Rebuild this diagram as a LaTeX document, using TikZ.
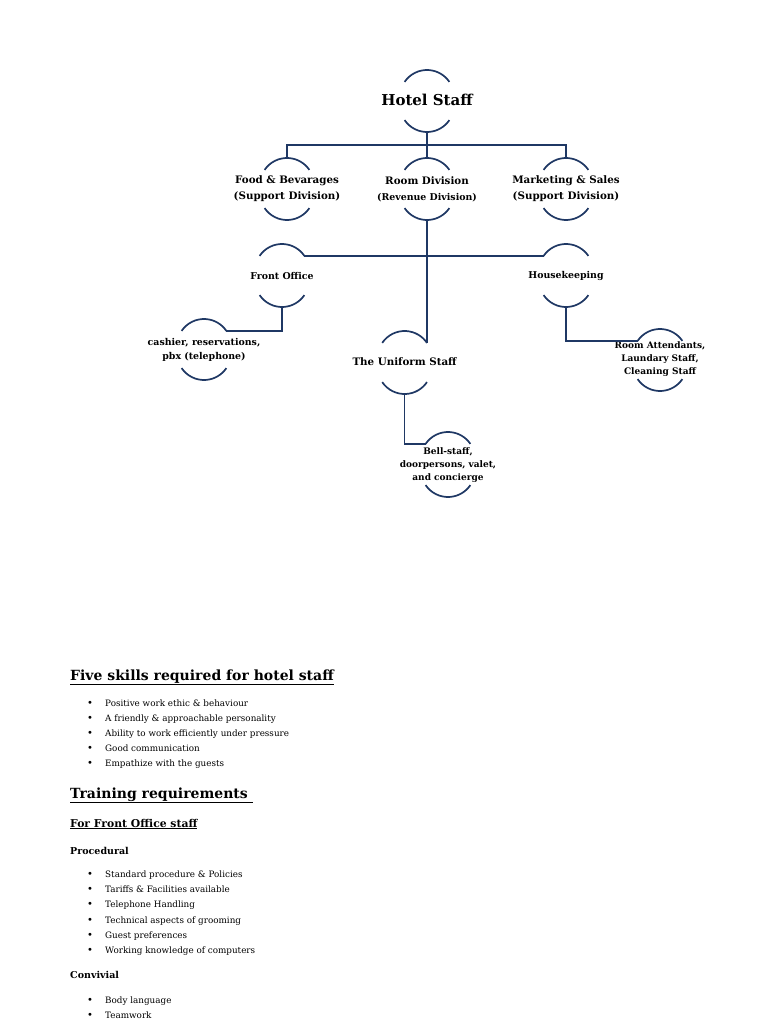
\documentclass[tikz,border=0pt]{standalone}
\usepackage{fontspec}
\setmainfont{DejaVu Serif}
\definecolor{navy}{RGB}{31,56,100}
\tikzset{
  arcline/.style={draw=navy,line width=1.7pt},
  conn/.style={draw=navy,line width=1.7pt},
  lbl/.style={align=center,inner sep=0pt,text=black},
  fbig/.style={font=\fontsize{15}{20}\selectfont\bfseries},
  fmid/.style={font=\fontsize{10.3}{16}\selectfont\bfseries},
  fsmall/.style={font=\fontsize{9.4}{13.5}\selectfont\bfseries},
  ftiny/.style={font=\fontsize{9}{12.7}\selectfont\bfseries},
  head/.style={anchor=base west,inner sep=0pt,font=\fontsize{14}{18}\selectfont\bfseries},
  subhead/.style={anchor=base west,inner sep=0pt,font=\fontsize{10.8}{15}\selectfont\bfseries},
  minorhead/.style={anchor=base west,inner sep=0pt,font=\fontsize{9.5}{13}\selectfont\bfseries},
  item/.style={anchor=base west,inner sep=0pt,font=\fontsize{8.8}{11}\selectfont},
  bul/.style={anchor=base west,inner sep=0pt,font=\fontsize{10}{11}\selectfont},
}
\newcommand\hnode[7]{%
  \coordinate (#1-t) at (#2,-#3);
  \coordinate (#1-tl) at (#2-22.4,-#3-11.9);
  \coordinate (#1-tr) at (#2+22.4,-#3-11.9);
  \coordinate (#1-b) at (#2,-#4);
  \coordinate (#1-bl) at (#2-22.4,-#4+11.9);
  \draw[arcline] (#1-tl) arc[start angle=146,end angle=34,radius=27];
  \draw[arcline] (#1-bl) arc[start angle=214,end angle=326,radius=27];
  \node[lbl,#6] (#1) at (#2,-#5) {#7};
}
\begin{document}
\begin{tikzpicture}[x=1pt,y=1pt]
\fill[white] (0,0) rectangle (768,-1024);
\useasboundingbox (0,0) rectangle (768,-1024);

\hnode{hs}{427}{70}{132}{100}{fbig}{Hotel Staff}
\hnode{fb}{287}{158}{220}{189}{fmid}{Food \& Bevarages\\(Support Division)}
\hnode{rd}{427}{158}{220}{189}{fmid}{Room Division\\{\fontsize{9.4}{15}\selectfont(Revenue Division)}}
\hnode{ms}{566}{158}{220}{189}{fmid}{Marketing \& Sales\\(Support Division)}
\hnode{fo}{282}{244}{307}{276}{fsmall}{Front Office}
\hnode{hk}{566}{244}{307}{276}{fsmall}{Housekeeping}
\hnode{ca}{204}{319}{380}{350}{fsmall}{cashier, reservations,\\pbx (telephone)}
\hnode{us}{404.6}{331}{394}{362}{fmid}{The Uniform Staff}
\hnode{ra}{660}{329}{391}{359}{ftiny}{Room Attendants,\\Laundary Staff,\\Cleaning Staff}
\hnode{bs}{448}{432}{497}{465}{ftiny}{Bell-staff,\\doorpersons, valet,\\and concierge}

\coordinate (bar) at (427,-145);
\draw[conn] (hs-b) -- (rd-t);
\draw[conn] (fb-t) |- (bar) -| (ms-t);
\draw[conn] (fo-tr) -- (hk-tl);
\draw[conn] (rd-b) -- (us-tr);
\draw[conn] (fo-b) |- (ca-tr);
\draw[conn] (hk-b) |- (ra-tl);
\draw[conn] (us-b) |- (bs-tl);

\node[head] (h1) at (70,-680) {\underline{Five skills required for hotel staff}};
\foreach \t [count=\i] in {Positive work ethic \& behaviour,A friendly \& approachable personality,Ability to work efficiently under pressure,Good communication,Empathize with the guests}{
  \node[item] (a\i) at (105,-706.5-15*\i+15) {\t};
  \node[bul] (ab\i) at (87,-706.5-15*\i+15) {\textbullet};
}
\node[head] (h2) at (70,-798) {\underline{Training requirements\ }};
\node[subhead] (h3) at (70,-827) {\underline{For Front Office staff}};
\node[minorhead] (h4) at (70,-854) {Procedural};
\foreach \t [count=\i] in {Standard procedure \& Policies,Tariffs \& Facilities available,Telephone Handling,Technical aspects of grooming,Guest preferences,Working knowledge of computers}{
  \node[item] (b\i) at (105,-877.5-15.2*\i+15.2) {\t};
  \node[bul] (bb\i) at (87,-877.5-15.2*\i+15.2) {\textbullet};
}
\node[minorhead] (h5) at (70,-978) {Convivial};
\foreach \t [count=\i] in {Body language,Teamwork}{
  \node[item] (c\i) at (105,-1003.5-15*\i+15) {\t};
  \node[bul] (cb\i) at (87,-1003.5-15*\i+15) {\textbullet};
}
\end{tikzpicture}
\end{document}
